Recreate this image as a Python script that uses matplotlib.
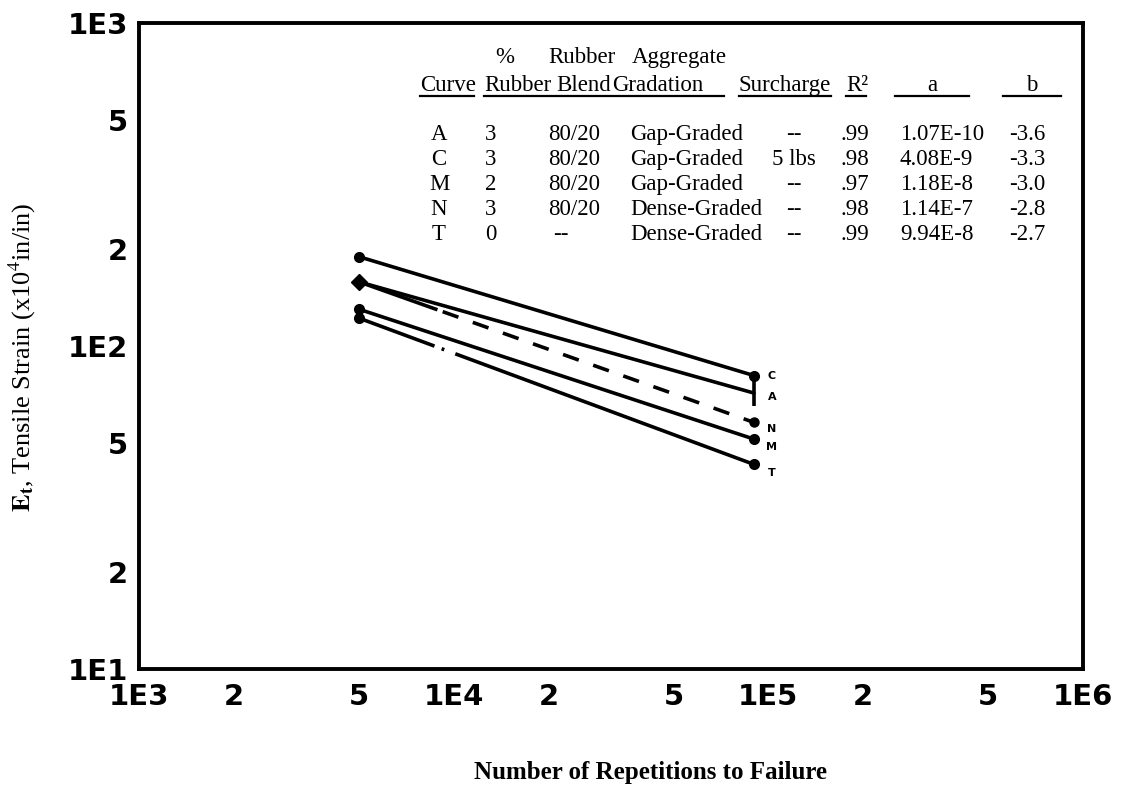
import matplotlib
matplotlib.use("Agg")
import matplotlib.pyplot as plt
from matplotlib import font_manager as fm
from matplotlib.lines import Line2D

# ---------------- data ----------------
curves = ["A", "C", "M", "N", "T"]
n_points = [5000, 90000]                 # repetitions to failure (start, end)
strain_start = [158, 189, 130, 158, 122]  # tensile strain at N = 5E3
strain_end = [71.5, 81, 51.5, 58, 43]     # tensile strain at end point

pct_rubber = ["3", "3", "2", "3", "0"]
rubber_blend = ["80/20", "80/20", "80/20", "80/20", "--"]
gradation = ["Gap-Graded", "Gap-Graded", "Gap-Graded", "Dense-Graded", "Dense-Graded"]
surcharge = ["--", "5 lbs", "--", "--", "--"]
r_squared = [".99", ".98", ".97", ".98", ".99"]
coef_a = ["1.07E-10", "4.08E-9", "1.18E-8", "1.14E-7", "9.94E-8"]
coef_b = ["-3.6", "-3.3", "-3.0", "-2.8", "-2.7"]

x_ticks = [1e3, 2e3, 5e3, 1e4, 2e4, 5e4, 1e5, 2e5, 5e5, 1e6]
x_ticklabels = ["1E3", "2", "5", "1E4", "2", "5", "1E5", "2", "5", "1E6"]
y_ticks = [10, 20, 50, 100, 200, 500, 1000]
y_ticklabels = ["1E1", "2", "5", "1E2", "2", "5", "1E3"]

# ---------------- style ----------------
plt.rcParams["lines.scale_dashes"] = False
plt.rcParams["mathtext.fontset"] = "stix"
names = {f.name for f in fm.fontManager.ttflist}
if "Liberation Sans Narrow" in names:
    tick_family, tick_size = "Liberation Sans Narrow", 27
else:
    tick_family, tick_size = "DejaVu Sans", 21
serif = ["Liberation Serif", "DejaVu Serif"]

W, H = 1122, 787
fig = plt.figure(figsize=(W / 100, H / 100), dpi=100)
L, R, T, B = 139, 1083, 23, 669
ax = fig.add_axes([L / W, 1 - B / H, (R - L) / W, (B - T) / H])
ax.set_xscale("log")
ax.set_yscale("log")
ax.set_xlim(1e3, 1e6)
ax.set_ylim(10, 1000)

for s in ax.spines.values():
    s.set_linewidth(2.8)
    s.set_color("black")

ax.xaxis.set_major_locator(matplotlib.ticker.FixedLocator(x_ticks))
ax.xaxis.set_minor_locator(matplotlib.ticker.NullLocator())
ax.yaxis.set_major_locator(matplotlib.ticker.FixedLocator(y_ticks))
ax.yaxis.set_minor_locator(matplotlib.ticker.NullLocator())
ax.set_xticklabels(x_ticklabels, fontfamily=tick_family, fontsize=tick_size, fontweight="bold")
ax.set_yticklabels(y_ticklabels, fontfamily=tick_family, fontsize=tick_size, fontweight="bold")
ax.tick_params(axis="x", length=0, pad=10)
ax.tick_params(axis="y", length=0, pad=8)

lw = 2.6
styles = {
    "A": dict(ls="-"),
    "C": dict(ls="-"),
    "M": dict(ls="-"),
    "N": dict(ls=(0, (60, 4, 12, 11, 12, 11, 12, 11, 12, 11, 12, 11, 12, 11, 12, 11, 12, 11, 12, 11, 12, 11, 40, 1))),
    "T": dict(ls=(0, (58, 5.5, 2, 8.5, 1000, 1))),
}
for i, c in enumerate(curves):
    ys = [strain_start[i], strain_end[i]]
    ax.plot(n_points, ys, color="black", lw=lw, solid_capstyle="round",
            dash_capstyle="butt", **styles[c])

# end markers
for i, c in enumerate(curves):
    if c == "A":
        ax.plot(n_points[0], strain_start[i], "D", color="black", ms=8)
        ax.plot(n_points[1], strain_end[i], "|", color="black", ms=18, mew=2.6)
    elif c == "N":
        ax.plot(n_points[1], strain_end[i], "o", color="black", ms=6.5)
    else:
        ax.plot(n_points[0], strain_start[i], "o", color="black", ms=7)
        ax.plot(n_points[1], strain_end[i], "o", color="black", ms=7)

# curve letters at line ends
letter_dy = {"C": 0, "A": -3, "N": -4.5, "M": -6, "T": -6}
for i, c in enumerate(curves):
    ax.annotate(c, xy=(n_points[1], strain_end[i]), xytext=(13, letter_dy[c]),
                textcoords="offset points", ha="center", va="center",
                fontsize=8, fontweight="bold", fontfamily="DejaVu Sans")

# ---------------- labels ----------------
def fx(x):
    return x / W

def fy(y):
    return 1 - y / H

fig.text(fx(22), fy(357), r"$\mathbf{E_t}$, Tensile Strain (x10$^{4}$in/in)",
         rotation=90, ha="center", va="center", fontsize=19, family=serif)
fig.text(fx(650), fy(773), "Number of Repetitions to Failure", ha="center",
         va="center", fontsize=18, fontweight="bold", family=serif)

# ---------------- table ----------------
fs = 16.5
sup_y, head_y = 63, 91
kw0 = dict(va="baseline", fontsize=fs, family=serif)
fig.text(fx(505), fy(sup_y), "%", ha="center", **kw0)
fig.text(fx(548), fy(sup_y), "Rubber", ha="left", **kw0)
fig.text(fx(632), fy(sup_y), "Aggregate", ha="left", **kw0)

headers = [("Curve", 420, "left"), ("Rubber", 484, "left"), ("Blend", 556, "left"),
           ("Gradation", 612, "left"), ("Surcharge", 739, "left"), ("R²", 846, "left"),
           ("a", 932, "center"), ("b", 1032, "center")]
for txt, x, ha in headers:
    fig.text(fx(x), fy(head_y), txt, ha=ha, **kw0)

for x0, x1 in [(420, 474), (484, 724), (739, 831), (846, 866), (895, 969), (1003, 1061)]:
    fig.add_artist(Line2D([fx(x0), fx(x1)], [fy(96), fy(96)], color="black",
                          lw=1.6, transform=fig.transFigure))

row_y0, row_dy = 140, 25
for i in range(len(curves)):
    y = fy(row_y0 + i * row_dy)
    fig.text(fx(439), y, curves[i], ha="center", **kw0)
    fig.text(fx(491), y, pct_rubber[i], ha="center", **kw0)
    fig.text(fx(574 if rubber_blend[i] != "--" else 561), y, rubber_blend[i], ha="center", **kw0)
    fig.text(fx(630), y, gradation[i], ha="left", **kw0)
    fig.text(fx(794), y, surcharge[i], ha="center", **kw0)
    fig.text(fx(840), y, r_squared[i], ha="left", **kw0)
    fig.text(fx(900), y, coef_a[i], ha="left", **kw0)
    fig.text(fx(1009), y, coef_b[i], ha="left", **kw0)

fig.savefig("out.png", dpi=100, facecolor="white")
